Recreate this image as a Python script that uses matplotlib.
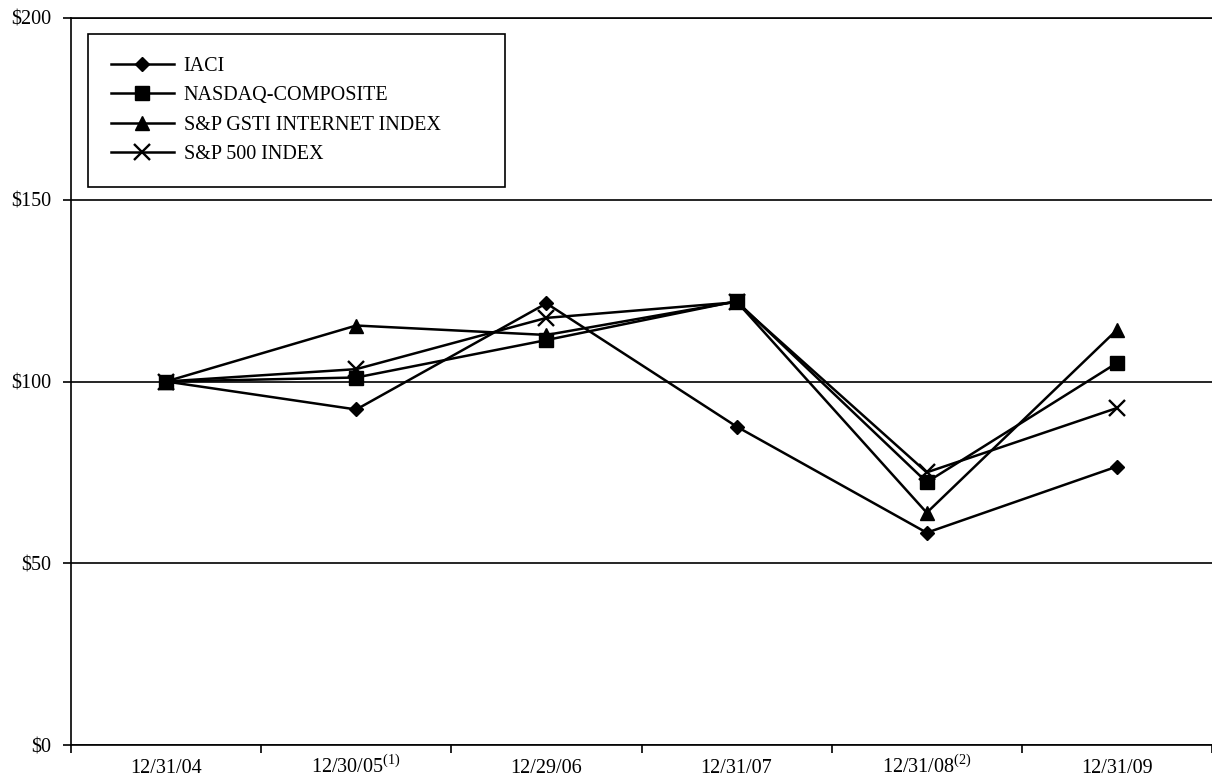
import matplotlib
matplotlib.use('Agg')
import matplotlib.pyplot as plt

dates = ['12/31/04', '12/30/05$^{\\mathregular{(1)}}$', '12/29/06', '12/31/07',
         '12/31/08$^{\\mathregular{(2)}}$', '12/31/09']
iaci = [100, 92.3, 121.5, 87.6, 58.4, 76.6]
nasdaq = [100, 101.1, 111.4, 122.1, 72.3, 105.1]
gsti = [100, 115.4, 112.8, 122.0, 63.9, 114.2]
sp500 = [100, 103.4, 117.5, 121.8, 75.0, 92.7]
yticks = [0, 50, 100, 150, 200]

plt.rcParams['font.family'] = ['Liberation Serif', 'DejaVu Serif']
plt.rcParams['mathtext.fontset'] = 'custom'
plt.rcParams['mathtext.rm'] = 'Liberation Serif'

fig = plt.figure(figsize=(12.12, 7.76), dpi=100)
ax = fig.add_axes([71 / 1212, 31 / 776, 1141 / 1212, 727 / 776])

x = list(range(len(dates)))
lw = 1.8
h_iaci, = ax.plot(x, iaci, color='black', lw=lw, marker='D', ms=7, label='IACI', zorder=3)
h_gsti, = ax.plot(x, gsti, color='black', lw=lw, marker='^', ms=10, label='S&P GSTI INTERNET INDEX', zorder=3)
h_sp, = ax.plot(x, sp500, color='black', lw=lw, marker='x', ms=11, mew=1.7, label='S&P 500 INDEX', zorder=3)
h_nas, = ax.plot(x, nasdaq, color='black', lw=lw, marker='s', ms=10, label='NASDAQ-COMPOSITE', zorder=4)

ax.set_xlim(-0.5, len(dates) - 0.5)
ax.set_ylim(0, 200)

# y axis
ax.set_yticks(yticks)
ax.set_yticklabels(['\\$%d' % v for v in yticks], fontsize=14.5)
ax.tick_params(axis='y', direction='out', length=6, width=1.2, pad=8, color='black')
ax.yaxis.grid(True, color='black', lw=1.2)
ax.set_axisbelow(True)

# x axis: labels at the points, ticks at the boundaries
ax.set_xticks(x)
ax.set_xticklabels(dates, fontsize=14.5, va='baseline')
ax.set_xticks([i - 0.5 for i in range(len(dates) + 1)], minor=True)
ax.tick_params(axis='x', which='major', length=0, pad=20)
ax.tick_params(axis='x', which='minor', direction='out', length=6, width=1.2, color='black')

for side in ['left', 'bottom', 'top']:
    ax.spines[side].set_linewidth(1.2)
    ax.spines[side].set_color('black')
ax.spines['right'].set_visible(False)

leg = ax.legend(handles=[h_iaci, h_nas, h_gsti, h_sp], loc='upper left',
                bbox_to_anchor=(17 / 1141, 0.5, 417 / 1141, (745 - 34) / 727 - 0.5),
                mode='expand', borderaxespad=0, fontsize=14.5, numpoints=1,
                handlelength=3.1, handletextpad=0.5, borderpad=1.15,
                labelspacing=0.5, fancybox=False, framealpha=1, edgecolor='black')
leg.get_frame().set_linewidth(1.2)

plt.savefig('out.png', dpi=100)
